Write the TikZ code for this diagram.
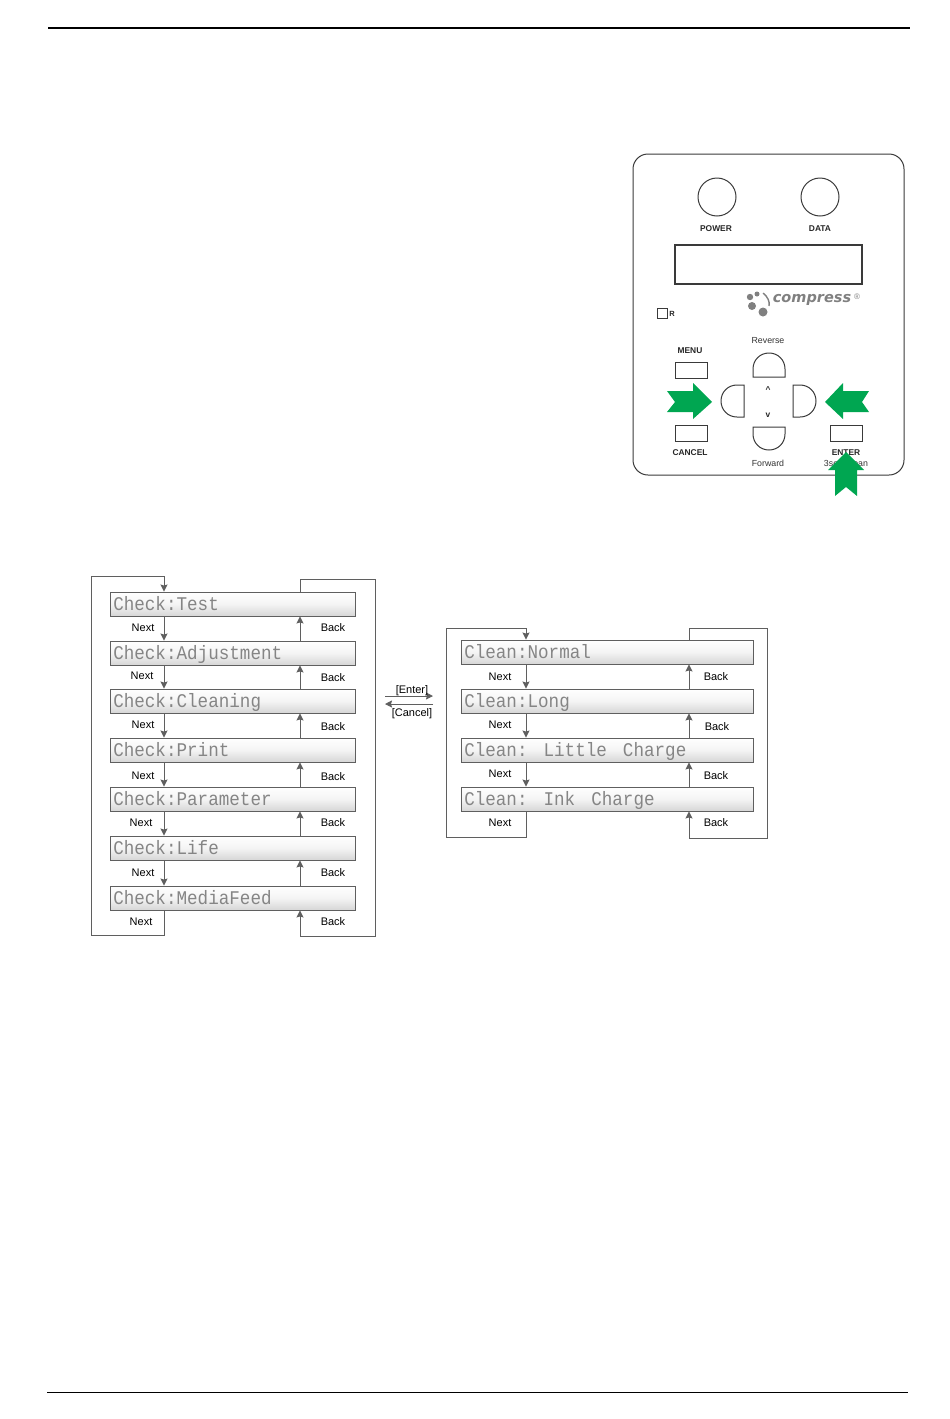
\documentclass[tikz,border=0pt]{standalone}
\usepackage{fontspec}
\setmainfont{Liberation Sans}
\setmonofont{Liberation Mono}
\newfontfamily\logofont{DejaVu Sans}
\usepackage{xcolor}
\usetikzlibrary{arrows.meta}
\definecolor{panelline}{HTML}{3A3A3A}
\definecolor{flowline}{HTML}{5F5F5F}
\definecolor{lcdtext}{HTML}{858585}
\definecolor{lcdmiddle}{HTML}{F4F4F4}
\definecolor{lcdbottom}{HTML}{D6D6D6}
\definecolor{pressgreen}{HTML}{00A651}
\definecolor{logogray}{HTML}{808080}
\newcommand{\lcdgap}{\hspace{16pt}}
\newcommand{\lcd}[1]{\scalebox{1}[1.1]{#1}}
\tikzset{
  every node/.append style={inner sep=0pt},
  flowtext/.style={font=\fontsize{11}{12}\selectfont,yshift=-1pt},
  lcdbox/.style={draw=flowline,line width=0.9pt,top color=white,bottom color=lcdbottom,middle color=lcdmiddle,
    minimum height=24pt,inner xsep=3pt,align=left,text=lcdtext,text height=15pt,text depth=2pt,
    font=\fontsize{17.6}{18}\ttfamily},
  checkbox/.style={lcdbox,text width=239.5pt},
  cleanbox/.style={lcdbox,text width=286.5pt},
  flow/.style={draw=flowline,line width=1pt},
  flowarrow/.style={flow,-{Stealth[length=7pt,width=7pt,inset=1pt]}},
  panel/.style={draw=panelline,line width=1pt},
  panellabel/.style={font=\fontsize{8.4}{9}\selectfont\bfseries,text=black!85,yshift=-1pt},
  panelsoft/.style={font=\fontsize{8.8}{10}\selectfont,text=black!80,yshift=-1pt},
  pressarrow/.style={fill=pressgreen,draw=none}
}
\begin{document}
\begin{tikzpicture}[x=1pt,y=-1pt,>=Stealth]
  \useasboundingbox (0,0) rectangle (950,1419);
  \draw[black,line width=2pt] (48,28)--(910,28);
  \draw[black,line width=0.7pt] (47,1392)--(908,1392);

  \draw[panel,rounded corners=15pt] (633,154) rectangle (904,475);
  \draw[panel] (717,197) circle[radius=19];
  \draw[panel] (820,197) circle[radius=19];
  \node[panellabel] (powerlabel) at (716,228) {POWER};
  \node[panellabel] (datalabel) at (820,228) {DATA};
  \draw[panel,line width=1.2pt] (675,245) rectangle (862,284);
  \foreach \x/\y/\r in {750/297/3.2,757/294/2.5,752/306/4,763/312/4.5} {
    \fill[logogray] (\x,\y) circle[radius=\r];
  }
  \draw[logogray,line width=1.4pt] (763,293) .. controls (768,297) and (770,302) .. (769,306);
  \node[text=logogray,font=\fontsize{14.5}{16}\logofont\bfseries\itshape] (logotext) at (812,300) {compress};
  \node[text=logogray,font=\fontsize{8}{9}\selectfont] (logomark) at (857,297) {®};
  \draw[panel] (657,308) rectangle (667,318);
  \node[panellabel,font=\fontsize{7.5}{8}\selectfont\bfseries] (rlabel) at (672,313) {R};

  \node[panelsoft] (reverselabel) at (768,340) {Reverse};
  \node[panelsoft] (forwardlabel) at (768,462) {Forward};
  \node[panellabel] (menulabel) at (690,350) {MENU};
  \node[panellabel] (cancellabel) at (690,452) {CANCEL};
  \node[panelsoft] (cleanlabel) at (846,462) {3sec Clean};
  \node[panellabel] (enterlabel) at (846,452) {ENTER};
  \draw[panel] (675,362) rectangle (707,378);
  \draw[panel] (675,425) rectangle (707,441);
  \draw[panel] (830,425) rectangle (862,441);
  \draw[panel] (753,377)--(753,369) .. controls (753,360) and (760,353) .. (769,353) .. controls (778,353) and (785,360) .. (785,369)--(785,377)--cycle;
  \draw[panel] (753,427)--(753,434) .. controls (753,443) and (760,450) .. (769,450) .. controls (778,450) and (785,443) .. (785,434)--(785,427)--cycle;
  \draw[panel] (744,385)--(737,385) .. controls (728,385) and (721,392) .. (721,401) .. controls (721,410) and (728,417) .. (737,417)--(744,417)--cycle;
  \draw[panel] (793,385)--(800,385) .. controls (809,385) and (816,392) .. (816,401) .. controls (816,410) and (809,417) .. (800,417)--(793,417)--cycle;
  \node[panellabel] (uplabel) at (768,389) {\^{}};
  \node[panellabel] (downlabel) at (768,414) {v};

  \fill[pressarrow] (667,391)--(693,391)--(693,383)--(712,402)--(693,419)--(693,412)--(667,412)--(675,402)--cycle;
  \fill[pressarrow] (869,391)--(843,391)--(843,383)--(825,402)--(843,419)--(843,412)--(869,412)--(862,402)--cycle;
  \fill[pressarrow] (846,452)--(864,470)--(857,470)--(857,496)--(846,487)--(835,496)--(835,470)--(828,470)--cycle;

  \node[checkbox] (test) at (233,604) {\lcd{Check:Test}};
  \node[checkbox] (adjust) at (233,653) {\lcd{Check:Adjustment}};
  \node[checkbox] (cleaning) at (233,701) {\lcd{Check:Cleaning}};
  \node[checkbox] (print) at (233,750) {\lcd{Check:Print}};
  \node[checkbox] (parameter) at (233,799) {\lcd{Check:Parameter}};
  \node[checkbox] (life) at (233,848) {\lcd{Check:Life}};
  \node[checkbox] (feed) at (233,898) {\lcd{Check:MediaFeed}};
  \coordinate (checknext) at (164,604);
  \coordinate (checkback) at (300,604);
  \foreach \a/\b in {test/adjust,adjust/cleaning,cleaning/print,print/parameter,parameter/life,life/feed} {
    \draw[flowarrow] (\a.south -| checknext)--(\b.north -| checknext);
    \draw[flowarrow] (\b.north -| checkback)--(\a.south -| checkback);
  }
  \foreach \n/\x/\y in {1/143/627,2/142/675,3/143/724,4/143/775,5/141/822,6/143/872,7/141/921} {
    \node[flowtext] (checknext\n) at (\x,\y) {Next};
  }
  \foreach \n/\y in {1/627,2/677,3/726,4/776,5/822,6/872,7/921} {
    \node[flowtext] (checkback\n) at (333,\y) {Back};
  }
  \coordinate (checklow) at (91,935);
  \coordinate (checktop) at (91,576);
  \coordinate (checkhigh) at (375,579);
  \coordinate (checkend) at (375,936);
  \draw[flowarrow] (feed.south -| checknext)--(checknext |- checklow)--(checklow)--(checktop)--(checknext |- checktop)--(test.north -| checknext);
  \draw[flowarrow] (test.north -| checkback)--(checkback |- checkhigh)--(checkhigh)--(checkend)--(checkback |- checkend)--(feed.south -| checkback);

  \node[cleanbox] (normal) at (607.5,652) {\lcd{Clean:Normal}};
  \node[cleanbox] (long) at (607.5,701) {\lcd{Clean:Long}};
  \node[cleanbox] (little) at (607.5,750) {\lcd{Clean:\lcdgap Little\lcdgap Charge}};
  \node[cleanbox] (ink) at (607.5,799) {\lcd{Clean:\lcdgap Ink\lcdgap Charge}};
  \coordinate (cleannext) at (526,652);
  \coordinate (cleanback) at (689,652);
  \foreach \a/\b in {normal/long,long/little,little/ink} {
    \draw[flowarrow] (\a.south -| cleannext)--(\b.north -| cleannext);
    \draw[flowarrow] (\b.north -| cleanback)--(\a.south -| cleanback);
  }
  \foreach \n/\y in {1/676,2/724,3/773,4/822} {
    \node[flowtext] (cleannext\n) at (500,\y) {Next};
  }
  \foreach \n/\x/\y in {1/716/676,2/717/726,3/716/775,4/716/822} {
    \node[flowtext] (cleanback\n) at (\x,\y) {Back};
  }
  \coordinate (cleanlow) at (446,837);
  \coordinate (cleantop) at (446,628);
  \coordinate (cleanhigh) at (767,628);
  \coordinate (cleanend) at (767,838);
  \draw[flowarrow] (ink.south -| cleannext)--(cleannext |- cleanlow)--(cleanlow)--(cleantop)--(cleannext |- cleantop)--(normal.north -| cleannext);
  \draw[flowarrow] (normal.north -| cleanback)--(cleanback |- cleanhigh)--(cleanhigh)--(cleanend)--(cleanback |- cleanend)--(ink.south -| cleanback);

  \coordinate (enterfrom) at (385,696);
  \coordinate (enterto) at (433,696);
  \coordinate (cancelfrom) at (433,704);
  \coordinate (cancelto) at (385,704);
  \draw[flowarrow] (enterfrom)--(enterto);
  \draw[flowarrow] (cancelfrom)--(cancelto);
  \node[flowtext] (enterkey) at (412,690) {[Enter]};
  \node[flowtext] (cancelkey) at (412,713) {[Cancel]};
\end{tikzpicture}
\end{document}
